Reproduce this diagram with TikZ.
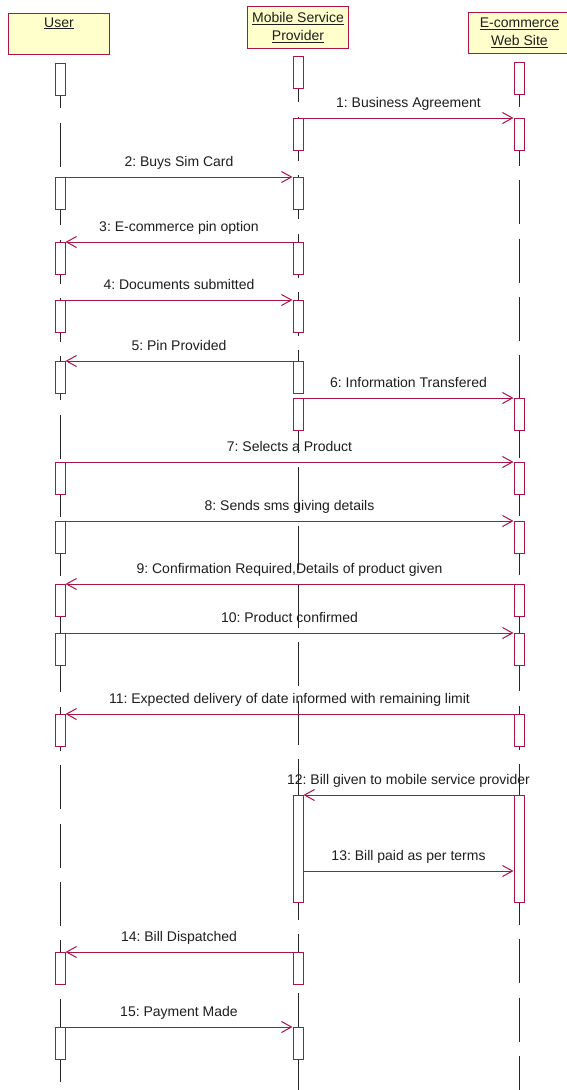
\documentclass[tikz,border=0pt]{standalone}
\usepackage{fontspec}
\setmainfont{Liberation Sans}
\usetikzlibrary{arrows.meta}
\definecolor{crim}{RGB}{170,20,70}
\definecolor{hdr}{RGB}{255,255,204}
\definecolor{txt}{RGB}{30,30,30}
\frenchspacing
\begin{document}
\begin{tikzpicture}[x=1pt,y=-1pt,font=\fontsize{14}{18}\selectfont\frenchspacing,
  head/.style={draw=crim,fill=hdr,line width=1pt,inner sep=0pt,text=txt,align=center,anchor=north west},
  life/.style={draw=black!85,line width=0.8pt,dash pattern=on 44pt off 14.4pt,dash phase=49pt},
  act/.style={draw=crim,fill=white,line width=1pt,minimum width=10pt,minimum height=32pt,inner sep=0pt,anchor=north},
  longact/.style={act,minimum height=107pt},
  msg/.style={draw=crim,line width=1pt,-{Straight Barb[length=10pt,width=11pt]}},
  lbl/.style={text=txt,anchor=base,yshift=11pt,pos=0.5,inner sep=0pt}]
\useasboundingbox (0,0) rectangle (566,1090);
\fill[white] (0,0) rectangle (566,1090);
% headers
\node[head,minimum width=101pt,minimum height=41pt] (user) at (8,13) {\underline{User}\\\strut};
\node[head,minimum width=101pt,minimum height=42pt] (msp) at (247,6) {\underline{Mobile Service}\\\underline{Provider}};
\node[head,minimum width=102pt,minimum height=41pt] (eco) at (468,12) {\underline{E-commerce}\\\underline{Web Site}};
% lifeline ends
\coordinate (userEnd) at (60,1082);
\coordinate (mspEnd) at (298,1090);
\coordinate (ecoEnd) at (519,1090);
\draw[life] (user.south -| userEnd) -- (userEnd);
\draw[life] (msp.south -| mspEnd) -- (mspEnd);
\draw[life] (eco.south -| ecoEnd) -- (ecoEnd);
% activations: user
\foreach \n/\y in {0/63,2/177,3/242,4/300,5/361,7/462,8/521,9/584,10/633,11/714,14/952,15/1027}
  \node[act] (u\n) at (60,\y) {};
% activations: mobile service provider
\foreach \n/\y in {0/56,1/118,2/177,3/242,4/300,5/361,6/398,14/952,15/1027}
  \node[act] (m\n) at (298,\y) {};
\node[longact] (m12) at (298,795) {};
% activations: e-commerce
\foreach \n/\y in {0/62,1/118,6/398,7/462,8/521,9/584,10/633,11/714}
  \node[act] (e\n) at (519,\y) {};
\node[longact] (e12) at (519,795) {};
% messages
\draw[msg] (m1.north east) -- node[lbl]{1: Business Agreement} (e1.north west);
\draw[msg] (u2.north east) -- node[lbl]{2: Buys Sim Card} (m2.north west);
\draw[msg] (m3.north west) -- node[lbl]{3: E-commerce pin option} (u3.north east);
\draw[msg] (u4.north east) -- node[lbl]{4: Documents submitted} (m4.north west);
\draw[msg] (m5.north west) -- node[lbl]{5: Pin Provided} (u5.north east);
\draw[msg] (m6.north east) -- node[lbl]{6: Information Transfered} (e6.north west);
\draw[msg] (u7.north east) -- node[lbl]{7: Selects a Product} (e7.north west);
\draw[msg] (u8.north east) -- node[lbl]{8: Sends sms giving details} (e8.north west);
\draw[msg] (e9.north west) -- node[lbl]{9: Confirmation Required,Details of product given} (u9.north east);
\draw[msg] (u10.north east) -- node[lbl]{10: Product confirmed} (e10.north west);
\draw[msg] (e11.north west) -- node[lbl]{11: Expected delivery of date informed with remaining limit} (u11.north east);
\draw[msg] (e12.north west) -- node[lbl]{12: Bill given to mobile service provider} (m12.north east);
\coordinate (c13) at (0,871);
\draw[msg] (m12.east |- c13) -- node[lbl]{13: Bill paid as per terms} (e12.west |- c13);
\draw[msg] (m14.north west) -- node[lbl]{14: Bill Dispatched} (u14.north east);
\draw[msg] (u15.north east) -- node[lbl]{15: Payment Made} (m15.north west);
\end{tikzpicture}
\end{document}
